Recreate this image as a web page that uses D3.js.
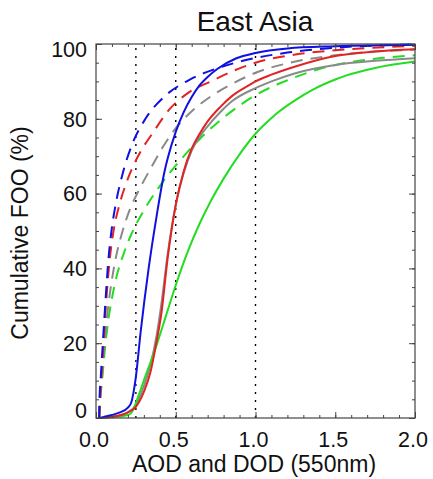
<!DOCTYPE html>
<html>
<head>
<meta charset="utf-8">
<script src="https://cdn.jsdelivr.net/npm/d3@7"></script>
<style>
html,body{margin:0;padding:0;background:#fff;}
svg{display:block;font-family:"Liberation Sans",Arial,Helvetica,sans-serif;}
</style>
</head>
<body>
<svg id="chart" width="433" height="479"></svg>
<script>
// ---- data ----
const title = "East Asia";
const xLabel = "AOD and DOD (550nm)";
const yLabel = "Cumulative FOO (%)";
const xTicks = [0.0, 0.5, 1.0, 1.5, 2.0];
const xTickLabels = ["0.0", "0.5", "1.0", "1.5", "2.0"];
const yTicks = [0, 20, 40, 60, 80, 100];
const refLines = [0.25, 0.5, 1.0];

// solid curves (AOD)
const blueSolid = [[0.02,0],[0.05,0.3],[0.1,0.8],[0.15,1.5],[0.2,2.8],[0.22,4],[0.25,11],[0.28,23],[0.33,40],[0.38,54],[0.43,66],[0.45,69.5],[0.5,76.5],[0.55,81.8],[0.6,85.8],[0.65,89],[0.7,91.2],[0.76,93.3],[0.88,96.2],[1.0,97.6],[1.2,98.8],[1.5,99.4],[2.0,99.8]];
const redSolid = [[0.02,0],[0.1,0.3],[0.2,1.5],[0.25,3],[0.3,7],[0.34,12],[0.38,20.5],[0.41,28],[0.45,43],[0.5,57],[0.55,66],[0.6,72],[0.65,76],[0.7,79.3],[0.78,83.2],[0.85,86],[0.96,89],[1.0,90],[1.1,91.8],[1.25,94],[1.5,96.8],[1.75,98],[2.0,98.6]];
const graySolid = [[0.02,0],[0.1,0.3],[0.2,1.5],[0.25,3.5],[0.3,8.5],[0.34,14],[0.38,22],[0.41,30.5],[0.45,44],[0.5,57],[0.55,65.5],[0.6,71.5],[0.65,75.2],[0.7,78],[0.78,81.8],[0.85,84.6],[1.0,88.2],[1.1,90],[1.25,92.2],[1.5,94.4],[1.75,95.5],[2.0,96.2]];
const greenSolid = [[0.02,0],[0.1,0.2],[0.2,0.8],[0.22,1.3],[0.275,7],[0.3,10],[0.38,19.5],[0.44,27.5],[0.5,35.5],[0.58,45],[0.65,52],[0.72,58],[0.8,64],[0.9,70.5],[1.0,76],[1.09,79.8],[1.15,82],[1.25,85],[1.36,87.8],[1.5,90.5],[1.57,91.6],[1.75,93.6],[2.0,95.3]];

// dashed curves (DOD)
const blueDashed = [[0.02,0],[0.022,5],[0.03,11],[0.04,18],[0.05,25],[0.062,33],[0.077,42],[0.097,50],[0.125,57.5],[0.165,65],[0.225,73],[0.31,80],[0.43,86],[0.58,90.3],[0.76,93.5],[0.94,95.7],[1.2,97.7],[1.5,99],[2.0,99.9]];
const redDashed = [[0.02,0],[0.024,4],[0.033,10],[0.043,17],[0.054,25],[0.067,33],[0.085,42],[0.11,50],[0.15,57.5],[0.2,64],[0.27,70.5],[0.36,76.5],[0.46,82.5],[0.58,87],[0.72,90],[0.86,92.8],[1.0,95],[1.25,97.2],[1.5,98.3],[2.0,99.5]];
const grayDashed = [[0.02,0],[0.025,4],[0.036,10],[0.048,17],[0.062,24],[0.08,31],[0.1,37],[0.125,43],[0.16,49],[0.21,55.5],[0.27,61],[0.34,66.5],[0.42,72.5],[0.5,77.5],[0.6,82],[0.72,86],[0.86,89.5],[1.0,92.3],[1.25,95.3],[1.5,97],[2.0,98.5]];
const greenDashed = [[0.02,0],[0.027,5],[0.04,11],[0.055,18],[0.075,25.5],[0.1,32],[0.13,38],[0.17,43.5],[0.22,49],[0.3,55.5],[0.4,62],[0.52,68.5],[0.66,75],[0.82,81],[1.0,86.3],[1.2,90.3],[1.4,93.3],[1.6,95.2],[1.8,96.3],[2.0,97]];

const seriesNames = ["greenDashed","grayDashed","redDashed","blueDashed","graySolid","greenSolid","redSolid","blueSolid"];
const seriesData = [greenDashed, grayDashed, redDashed, blueDashed, graySolid, greenSolid, redSolid, blueSolid];
const seriesColors = ["#22dd22","#8a8a8a","#e02424","#1010e0","#8a8a8a","#22dd22","#e02424","#1010e0"];
const seriesDash = [true,true,true,true,false,false,false,false];

// ---- layout ----
const svg = d3.select("#chart");
const L = 96, R = 415, T = 44, B = 418;
const x = d3.scaleLinear().domain([0, 2]).range([L, R]);
const y = d3.scaleLinear().domain([0, 100]).range([B, T]);
const axisColor = "#444";

// reference dotted lines
svg.append("g").selectAll("line").data(refLines).join("line")
  .attr("x1", d => x(d)).attr("x2", d => x(d))
  .attr("y1", y(0)).attr("y2", y(100))
  .attr("stroke", "#000").attr("stroke-width", 1.4)
  .attr("stroke-dasharray", "2,6");

// curves
const line = d3.line().x(d => x(d[0])).y(d => y(d[1])).curve(d3.curveMonotoneX);
const g = svg.append("g");
seriesData.forEach((s, i) => {
  g.append("path").datum(s)
    .attr("d", line)
    .attr("fill", "none")
    .attr("stroke", seriesColors[i])
    .attr("stroke-width", 2)
    .attr("stroke-dasharray", seriesDash[i] ? "12,8" : null)
    .attr("class", seriesNames[i]);
});

// axes (ticks inward)
const xMinor = d3.range(0, 2.0001, 0.1);
const yMinor = d3.range(0, 100.001, 5);
function drawAxis(gen, transform) {
  const a = svg.append("g").attr("transform", transform);
  a.call(gen);
  a.select(".domain").remove();
  a.selectAll("line").attr("stroke", axisColor);
  a.selectAll("text").remove();
  return a;
}
drawAxis(d3.axisTop(x).tickValues(xMinor).tickSize(3), `translate(0,${B})`);
drawAxis(d3.axisTop(x).tickValues(xTicks).tickSize(6), `translate(0,${B})`);
drawAxis(d3.axisBottom(x).tickValues(xMinor).tickSize(3), `translate(0,${T})`);
drawAxis(d3.axisBottom(x).tickValues(xTicks).tickSize(6), `translate(0,${T})`);
drawAxis(d3.axisRight(y).tickValues(yMinor).tickSize(3), `translate(${L},0)`);
drawAxis(d3.axisRight(y).tickValues(yTicks).tickSize(6), `translate(${L},0)`);
drawAxis(d3.axisLeft(y).tickValues(yMinor).tickSize(3), `translate(${R},0)`);
drawAxis(d3.axisLeft(y).tickValues(yTicks).tickSize(6), `translate(${R},0)`);

// frame
svg.append("rect").attr("x", L).attr("y", T).attr("width", R - L).attr("height", B - T)
  .attr("fill", "none").attr("stroke", axisColor).attr("stroke-width", 1.2);

// tick labels
svg.append("g").selectAll("text").data(xTicks).join("text")
  .attr("x", d => x(d) - 2).attr("y", 447)
  .attr("text-anchor", "middle").attr("font-size", 21.5).attr("fill", "#111")
  .text((d, i) => xTickLabels[i]);

svg.append("g").selectAll("text").data(yTicks).join("text")
  .attr("x", L - 9)
  .attr("y", d => y(d) + (d === 100 ? 5 : d === 0 ? -8 : 0))
  .attr("dy", "0.36em")
  .attr("text-anchor", "end").attr("font-size", 21.5).attr("fill", "#111")
  .text(d => d);

// titles
svg.append("text").attr("x", 255).attr("y", 31).attr("text-anchor", "middle")
  .attr("font-size", 28).attr("fill", "#111").text(title);
svg.append("text").attr("x", 254).attr("y", 472).attr("text-anchor", "middle")
  .attr("font-size", 23).attr("fill", "#111").text(xLabel);
svg.append("text").attr("transform", "translate(28,233) rotate(-90)")
  .attr("text-anchor", "middle").attr("font-size", 23).attr("fill", "#111").text(yLabel);
</script>
</body>
</html>
